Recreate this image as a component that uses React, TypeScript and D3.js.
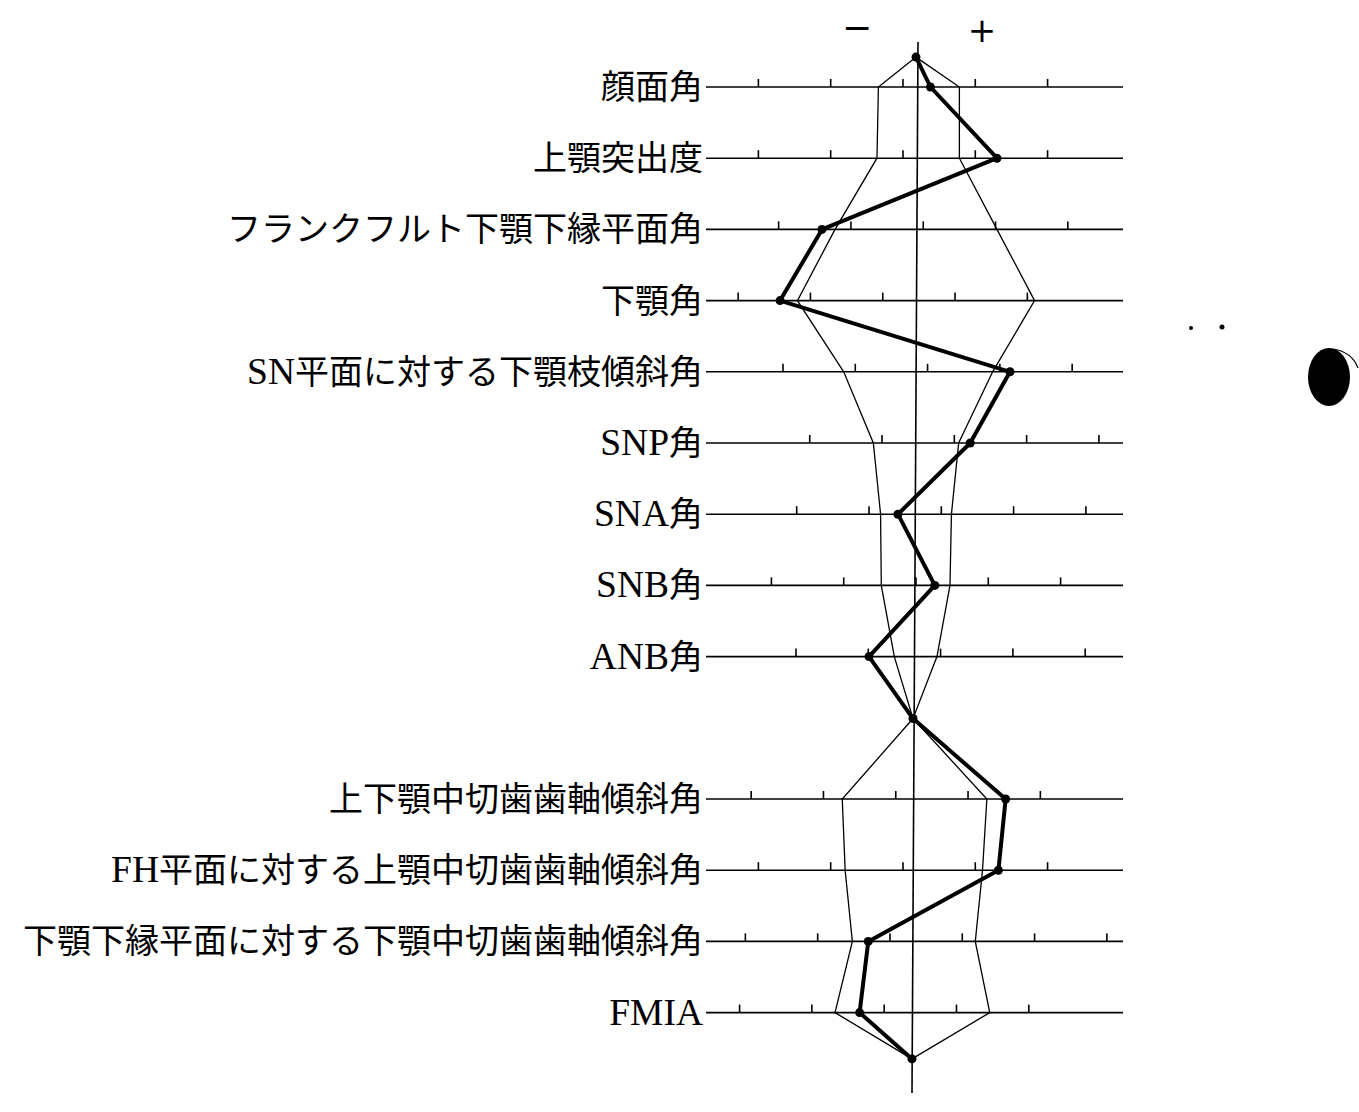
import React from "react";
import * as d3 from "d3";

// ---- Data (degrees) ----
const labels = [
  "顔面角",
  "上顎突出度",
  "フランクフルト下顎下縁平面角",
  "下顎角",
  "SN平面に対する下顎枝傾斜角",
  "SNP角",
  "SNA角",
  "SNB角",
  "ANB角",
  "上下顎中切歯歯軸傾斜角",
  "FH平面に対する上顎中切歯歯軸傾斜角",
  "下顎下縁平面に対する下顎中切歯歯軸傾斜角",
  "FMIA",
];
const means = [85.9, 5.9, 29.5, 122.3, 89.2, 77.35, 83.25, 80, 3.3, 126.4, 110.9, 91.8, 57.2];
const sdLow = [83.3, 3.2, 23.9, 114.1, 84.2, 74.4, 80.8, 77.6, 1.8, 121.3, 106.0, 87.4, 51.6];
const sdHigh = [88.9, 8.9, 35.1, 130.5, 94.5, 80.3, 85.7, 82.35, 4.75, 131.3, 115.5, 95.9, 62.3];
const patient = [86.9, 11.5, 23.0, 112.9, 95.7, 81.1, 82.0, 81.3, 0.05, 132.6, 116.6, 88.5, 53.3];
const tickValues = [
  [75, 80, 85, 90, 95],
  [-5, 0, 5, 10, 15],
  [20, 25, 30, 35, 40],
  [110, 115, 120, 125, 130],
  [80, 85, 90, 95, 100],
  [70, 75, 80, 85, 90],
  [75, 80, 85, 90, 95],
  [70, 75, 80, 85, 90],
  [-5, 0, 5, 10, 15],
  [115, 120, 125, 130, 135],
  [100, 105, 110, 115, 120],
  [80, 85, 90, 95, 100, 105],
  [45, 50, 55, 60, 65],
];
// vertical slot of each row (gap after ANB), and apex slots (top / middle / bottom)
const rowSlots = [0, 1, 2, 3, 4, 5, 6, 7, 8, 10, 11, 12, 13];
const apexSlots = [-0.42, 8.87, 13.65];
const signLabels = ["−", "+"];

const W = 1359;
const H = 1112;

function splitLabel(s: string): [string, string] {
  const m = s.match(/^[A-Za-z]+/);
  if (!m) return ["", s];
  return [m[0], s.slice(m[0].length)];
}

export default function App() {
  const cx = 916;
  // deviation from mean (degrees) -> x
  const xDev = d3.scaleLinear().domain([0, 10]).range([cx, cx + 144.6]);
  const y = d3.scaleLinear().domain([0, 1]).range([87, 158.2]);
  const xOf = (i: number, v: number) => xDev(v - means[i]);

  const lineStart = 706;
  const lineEnd = 1123;

  const buildPts = (vals: number[]) => {
    const pts: [number, number][] = [];
    pts.push([cx, y(apexSlots[0])]);
    for (let i = 0; i < 9; i++) pts.push([xOf(i, vals[i]), y(rowSlots[i])]);
    pts.push([cx - 3, y(apexSlots[1])]);
    for (let i = 9; i < 13; i++) pts.push([xOf(i, vals[i]), y(rowSlots[i])]);
    pts.push([cx - 4, y(apexSlots[2])]);
    return pts;
  };
  const line = d3.line<[number, number]>();
  const lowPts = buildPts(sdLow);
  const highPts = buildPts(sdHigh);
  const patPts = buildPts(patient);

  const latinFont = "'Liberation Serif', serif";
  const cjkFont = "'Noto Sans CJK JP', sans-serif";

  return (
    <svg
      width={W}
      height={H}
      viewBox={`0 0 ${W} ${H}`}
      style={{ position: "absolute", left: 0, top: 0, background: "#fff" }}
    >
      <rect x={0} y={0} width={W} height={H} fill="#fff" />
      {/* sign labels */}
      <text x={857} y={40} fontSize={36} textAnchor="middle" fontFamily="'DejaVu Sans', sans-serif" fill="#000">
        {signLabels[0]}
      </text>
      <text x={982} y={42} fontSize={34} textAnchor="middle" fontFamily="'DejaVu Sans', sans-serif" fill="#000">
        {signLabels[1]}
      </text>

      {/* rows */}
      {labels.map((lab, i) => {
        const yy = y(rowSlots[i]);
        const [latin, rest] = splitLabel(lab);
        return (
          <g key={i}>
            <line x1={lineStart} x2={lineEnd} y1={yy} y2={yy} stroke="#000" strokeWidth={1.6} />
            {tickValues[i].map((t, j) => (
              <line
                key={j}
                x1={xOf(i, t)}
                x2={xOf(i, t)}
                y1={yy}
                y2={yy - 8}
                stroke="#000"
                strokeWidth={1.6}
              />
            ))}
            <text x={703} y={yy + 12} textAnchor="end" fill="#000">
              {latin && (
                <tspan fontFamily={latinFont} fontSize={37.5}>
                  {latin}
                </tspan>
              )}
              {rest && (
                <tspan fontFamily={cjkFont} fontSize={34}>
                  {rest}
                </tspan>
              )}
            </text>
          </g>
        );
      })}

      {/* central axis */}
      <line x1={cx + 2} x2={cx - 4} y1={42} y2={1093} stroke="#000" strokeWidth={1.6} />

      {/* standard range polygon */}
      <path d={line(lowPts) || ""} fill="none" stroke="#000" strokeWidth={1.3} />
      <path d={line(highPts) || ""} fill="none" stroke="#000" strokeWidth={1.3} />

      {/* patient */}
      <path d={line(patPts) || ""} fill="none" stroke="#000" strokeWidth={4} strokeLinejoin="round" />
      {patPts.map((p, k) => (
        <circle key={k} cx={p[0]} cy={p[1]} r={4.5} fill="#000" />
      ))}

      {/* scan artifacts */}
      <ellipse cx={1329} cy={377} rx={21} ry={29} fill="#000" />
      <path d="M1333,349 Q1352,352 1358,368" fill="none" stroke="#000" strokeWidth={1.2} />
      <circle cx={1191} cy={328} r={2} fill="#000" />
      <circle cx={1222} cy={327} r={2.5} fill="#000" />
    </svg>
  );
}
